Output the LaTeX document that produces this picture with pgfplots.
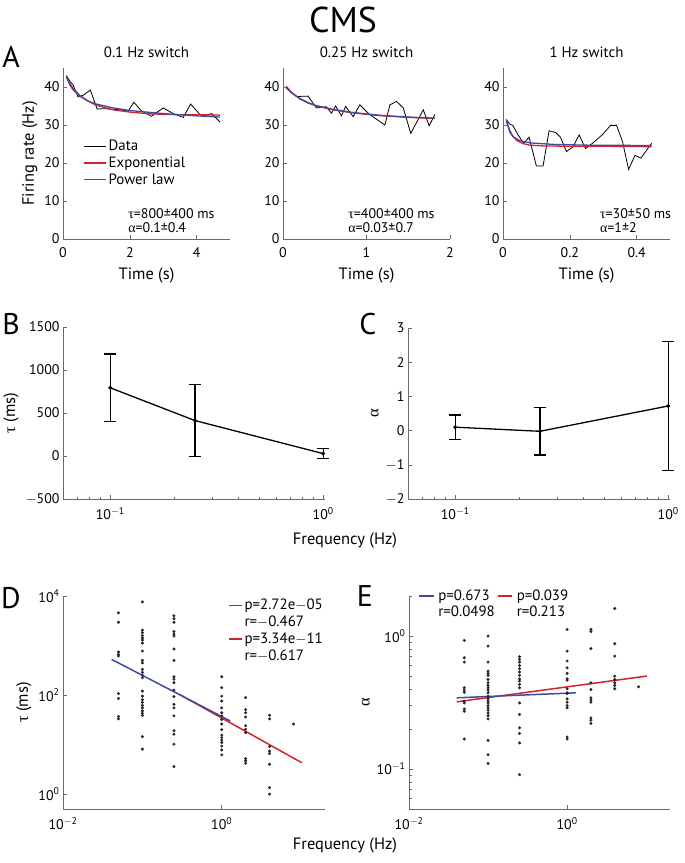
\documentclass[border=0pt]{standalone}
\usepackage{fontspec}
\setmainfont{PT Sans}
\newfontfamily\grk{Liberation Serif}
\newcommand{\tauc}{{\grk τ}}
\newcommand{\alphc}{{\grk α}}
\usepackage{pgfplots}
\pgfplotsset{compat=1.18}

\definecolor{fitred}{RGB}{210,35,45}
\definecolor{fitblue}{RGB}{65,75,160}
\definecolor{axgray}{RGB}{105,105,105}

\tikzset{txt/.style={anchor=west, font=\fontsize{14}{16}\selectfont, inner sep=0pt}}

\pgfplotsset{
  panel/.style={
    scale only axis, anchor=south west,
    axis lines*=left,
    axis line style={axgray, line width=0.8bp},
    tick style={axgray, line width=0.6bp},
    tick align=inside,
    major tick length=4bp, minor tick length=2.5bp,
    tick label style={font=\fontsize{14}{16}\selectfont},
    xticklabel style={yshift=-5bp},
    label style={font=\fontsize{16.5}{19}\selectfont},
    xlabel style={yshift=-3bp},
    /pgf/number format/assume math mode=true,
    clip=false,
  },
  apanel/.style={
    panel, width=167bp, height=171bp,
    ymin=0, ymax=45, ytick={0,10,20,30,40},
    xlabel={Time (s)},
    title style={font=\fontsize{15}{18}\selectfont, yshift=1bp},
  },
  dots/.style={only marks, mark=*, mark size=1.3bp, black!85},
  fitlegend/.style={
    legend style={draw=none, fill=none, inner sep=0pt, font=\fontsize{15}{17.5}\selectfont},
    legend cell align=left,
  },
}

\begin{document}
\begin{tikzpicture}
\useasboundingbox (0,0) rectangle (685bp,-863bp);

\node[font=\fontsize{36}{40}\selectfont] at (343bp,-20bp) {CMS};
\node[font=\fontsize{30}{34}\selectfont] at (11bp,-57bp) {A};
\node[font=\fontsize{30}{34}\selectfont] at (11bp,-324bp) {B};
\node[font=\fontsize{30}{34}\selectfont] at (368bp,-324bp) {C};
\node[font=\fontsize{30}{34}\selectfont] at (11bp,-598bp) {D};
\node[font=\fontsize{30}{34}\selectfont] at (365bp,-596bp) {E};
\node[font=\fontsize{16.5}{19}\selectfont] at (345bp,-540bp) {Frequency (Hz)};
\node[font=\fontsize{16.5}{19}\selectfont] at (345bp,-845bp) {Frequency (Hz)};

% ---- A: 0.1 Hz
\begin{axis}[apanel, at={(63bp,-239bp)},
  xmin=0, xmax=5, xtick={0,2,4},
  ylabel={Firing rate (Hz)}, title={0.1 Hz switch},
  fitlegend,
  legend style={at={(0.12,0.59)}, anchor=north west, row sep=0.5bp},
  legend image post style={xscale=1.3},
]
\addlegendimage{black, line width=0.8bp}
\addlegendentry{Data}
\addlegendimage{fitred, line width=1.3bp}
\addlegendentry{Exponential}
\addlegendimage{fitblue, line width=1.3bp}
\addlegendentry{Power law}
\addplot[black, line width=0.8bp, forget plot] coordinates {
 (0.1,43.0) (0.2,41.6) (0.3,40.6) (0.45,37.4) (0.6,37.8) (0.82,39.2)
 (1.02,34.2) (1.25,34.3) (1.5,34.1) (1.75,34.0) (1.95,33.6) (2.12,36.0)
 (2.35,33.7) (2.65,32.3) (3.0,34.5) (3.3,33.0) (3.6,32.0) (3.82,35.5)
 (4.15,32.3) (4.45,33.0) (4.7,30.8)};
\addplot[fitred, line width=1.3bp, forget plot] coordinates {
 (0.1,42.6) (0.2,41.0) (0.3,39.7) (0.5,37.8) (0.75,36.3) (1.0,35.2)
 (1.5,34.0) (2.0,33.4) (2.5,33.0) (3.0,32.8) (3.5,32.7) (4.0,32.7) (4.7,32.6)};
\addplot[fitblue, line width=1.3bp, forget plot] coordinates {
 (0.1,42.8) (0.2,40.6) (0.3,39.3) (0.5,37.6) (0.75,36.3) (1.0,35.5)
 (1.5,34.5) (2.0,33.8) (2.5,33.4) (3.0,33.0) (3.5,32.7) (4.0,32.4) (4.7,32.1)};
\node[txt] at (rel axis cs:0.39,0.15) {\tauc=800±400 ms};
\node[txt] at (rel axis cs:0.39,0.065) {\alphc=0.1±0.4};
\end{axis}

% ---- A: 0.25 Hz
\begin{axis}[apanel, at={(283bp,-239bp)},
  xmin=0, xmax=2, xtick={0,1,2}, title={0.25 Hz switch}]
\addplot[black, line width=0.8bp] coordinates {
 (0.04,39.8) (0.16,37.5) (0.3,37.6) (0.4,34.5) (0.52,34.8) (0.58,33.1)
 (0.63,35.0) (0.7,32.4) (0.75,34.9) (0.84,32.2) (0.92,35.3) (1.02,33.1)
 (1.12,31.5) (1.22,30.0) (1.28,35.3) (1.36,36.2) (1.44,34.5) (1.53,27.8)
 (1.68,34.0) (1.75,29.8) (1.82,32.8)};
\addplot[fitred, line width=1.3bp] coordinates {
 (0.04,40.2) (0.1,38.6) (0.2,36.9) (0.3,35.8) (0.4,35.0) (0.6,34.0)
 (0.8,33.3) (1.0,32.8) (1.2,32.4) (1.5,32.0) (1.82,31.7)};
\addplot[fitblue, line width=1.3bp] coordinates {
 (0.04,39.8) (0.1,38.5) (0.2,37.0) (0.3,35.9) (0.4,35.1) (0.6,34.1)
 (0.8,33.4) (1.0,32.9) (1.2,32.5) (1.5,32.1) (1.82,31.8)};
\node[txt] at (rel axis cs:0.39,0.15) {\tauc=400±400 ms};
\node[txt] at (rel axis cs:0.39,0.065) {\alphc=0.03±0.7};
\end{axis}

% ---- A: 1 Hz
\begin{axis}[apanel, at={(503bp,-239bp)},
  xmin=0, xmax=0.5, xtick={0,0.2,0.4}, title={1 Hz switch}]
\addplot[black, line width=0.8bp] coordinates {
 (0.01,31.4) (0.02,30.3) (0.03,29.8) (0.045,27.4) (0.062,25.2) (0.078,26.8)
 (0.10,19.2) (0.12,19.2) (0.138,28.5) (0.158,28.0) (0.172,26.8) (0.19,23.0)
 (0.21,24.3) (0.228,27.4) (0.247,23.8) (0.268,25.2) (0.297,27.4) (0.322,29.9)
 (0.34,29.9) (0.358,25.6) (0.376,18.3) (0.395,22.0) (0.413,21.3) (0.445,25.2)};
\addplot[fitred, line width=1.3bp] coordinates {
 (0.01,31.0) (0.02,28.6) (0.03,27.0) (0.04,26.0) (0.06,25.1) (0.08,24.7)
 (0.12,24.5) (0.2,24.4) (0.3,24.4) (0.445,24.3)};
\addplot[fitblue, line width=1.3bp] coordinates {
 (0.01,31.5) (0.02,28.2) (0.03,26.9) (0.05,25.9) (0.08,25.3) (0.15,24.9)
 (0.25,24.7) (0.445,24.6)};
\node[txt] at (rel axis cs:0.58,0.15) {\tauc=30±50 ms};
\node[txt] at (rel axis cs:0.58,0.065) {\alphc=1±2};
\end{axis}

% ---- B
\begin{axis}[panel, at={(63bp,-499bp)}, width=262bp, height=172bp,
  xmode=log, xmin=0.06, xmax=1.02,
  xtick={0.1,1}, xticklabels={10\textsuperscript{$-$1}, 10\textsuperscript{0}},
  minor xtick={0.07,0.08,0.09,0.2,0.3,0.4,0.5,0.6,0.7,0.8,0.9},
  ymin=-500, ymax=1500, ytick={-500,0,500,1000,1500},
  yticklabels={$-$500,0,500,1000,1500},
  ylabel={\tauc\ (ms)}]
\addplot[black, line width=1.3bp, mark=*, mark size=1.2bp,
  error bars/.cd, y dir=both, y explicit,
  error bar style={line width=1.3bp},
  error mark options={rotate=90, mark size=6bp, line width=1.3bp}]
  coordinates {(0.1,793) +- (0,393) (0.25,412) +- (0,420) (1,28) +- (0,58)};
\end{axis}

% ---- C
\begin{axis}[panel, at={(408bp,-499bp)}, width=262bp, height=171bp,
  xmode=log, xmin=0.06, xmax=1.02,
  xtick={0.1,1}, xticklabels={10\textsuperscript{$-$1}, 10\textsuperscript{0}},
  minor xtick={0.07,0.08,0.09,0.2,0.3,0.4,0.5,0.6,0.7,0.8,0.9},
  ymin=-2, ymax=3, ytick={-2,-1,0,1,2,3},
  yticklabels={$-$2,$-$1,0,1,2,3},
  ylabel={\alphc}]
\addplot[black, line width=1.3bp, mark=*, mark size=1.2bp,
  error bars/.cd, y dir=both, y explicit,
  error bar style={line width=1.3bp},
  error mark options={rotate=90, mark size=6bp, line width=1.3bp}]
  coordinates {(0.1,0.10) +- (0,0.36) (0.25,-0.02) +- (0,0.69) (1,0.72) +- (0,1.88)};
\end{axis}

% ---- D
\begin{axis}[panel, fitlegend, at={(63bp,-809bp)}, width=262bp, height=213bp,
  xmode=log, ymode=log, xmin=0.01, xmax=20, ymin=0.5, ymax=10000,
  xtick={0.01,1}, xticklabels={10\textsuperscript{$-$2}, 10\textsuperscript{0}},
  ytick={1,100,10000},
  yticklabels={10\textsuperscript{0}, 10\textsuperscript{2}, 10\textsuperscript{4}},
  ylabel={\tauc\ (ms)},
  legend style={at={(0.63,0.995)}, anchor=north west, row sep=0.8bp},
  legend image post style={xscale=0.75},
]
\addlegendimage{fitblue, line width=1.5bp}
\addlegendentry{p=2.72e$-$05}
\addlegendimage{empty legend}
\addlegendentry{r=$-$0.467}
\addlegendimage{fitred, line width=1.5bp}
\addlegendentry{p=3.34e$-$11}
\addlegendimage{empty legend}
\addlegendentry{r=$-$0.617}
\addplot[dots, forget plot] table {
x y
0.05 4570
0.05 2950
0.05 741
0.05 661
0.05 617
0.05 107
0.05 85
0.05 37
0.05 33
0.1 7590
0.1 2040
0.1 1820
0.1 1580
0.1 1410
0.1 1290
0.1 1120
0.1 776
0.1 501
0.1 447
0.1 331
0.1 288
0.1 251
0.1 224
0.1 120
0.1 95
0.1 81
0.1 71
0.1 62
0.1 55
0.1 48
0.1 43
0.1 39
0.1 14.5
0.1 8.1
0.25 3980
0.25 3470
0.25 2950
0.25 1910
0.25 1700
0.25 1550
0.25 851
0.25 501
0.25 234
0.25 209
0.25 178
0.25 126
0.25 93
0.25 65
0.25 55
0.25 38
0.25 19
0.25 16.2
0.25 10.2
0.25 3.6
1 234
1 141
1 95
1 76
1 55
1 44
1 38
1 32
1 26
1 20
1 15.5
1 13.8
1 12.3
1 11
1 9.3
1 7.8
1 6.2
2 89
2 51
2 44
2 36
2 24
2 20.4
2 17.4
2 5.2
2 4.7
2 4.2
4 39
4 33
4 9.1
4 7.4
4 6.6
4 4.0
4 1.35
4 1.0
8 26
};
\addplot[fitred, line width=1.5bp, forget plot] coordinates {(0.3,101) (10.2,4.3)};
\addplot[fitblue, line width=1.5bp, forget plot] coordinates {(0.041,525) (1.28,30)};
\end{axis}

% ---- E
\begin{axis}[panel, fitlegend, at={(409bp,-809bp)}, width=261bp, height=213bp,
  xmode=log, ymode=log, xmin=0.01, xmax=20, ymin=0.05, ymax=2,
  xtick={0.01,1}, xticklabels={10\textsuperscript{$-$2}, 10\textsuperscript{0}},
  ytick={0.1,1}, yticklabels={10\textsuperscript{$-$1}, 10\textsuperscript{0}},
  minor ytick={0.06,0.07,0.08,0.09,0.2,0.3,0.4,0.5,0.6,0.7,0.8,0.9,2},
  ylabel={\alphc},
  legend columns=2,
  legend style={at={(0.035,1.04)}, anchor=north west,
    /tikz/every odd column/.style={column sep=2bp}},
  legend image post style={xscale=0.85},
]
\addlegendimage{fitblue, line width=1.5bp}
\addlegendentry{p=0.673}
\addlegendimage{fitred, line width=1.5bp}
\addlegendentry{p=0.039}
\addlegendimage{empty legend}
\addlegendentry{r=0.0498}
\addlegendimage{empty legend}
\addlegendentry{r=0.213}
\addplot[dots, forget plot] table {
x y
0.05 0.927
0.05 0.687
0.05 0.637
0.05 0.408
0.05 0.392
0.05 0.378
0.05 0.324
0.05 0.314
0.05 0.283
0.05 0.272
0.05 0.168
0.1 1.0
0.1 0.841
0.1 0.637
0.1 0.545
0.1 0.524
0.1 0.506
0.1 0.471
0.1 0.445
0.1 0.425
0.1 0.408
0.1 0.392
0.1 0.374
0.1 0.353
0.1 0.337
0.1 0.324
0.1 0.314
0.1 0.300
0.1 0.288
0.1 0.277
0.1 0.264
0.1 0.252
0.1 0.238
0.1 0.164
0.1 0.128
0.1 0.110
0.25 0.698
0.25 0.667
0.25 0.637
0.25 0.601
0.25 0.568
0.25 0.536
0.25 0.506
0.25 0.476
0.25 0.458
0.25 0.433
0.25 0.408
0.25 0.314
0.25 0.257
0.25 0.204
0.25 0.185
0.25 0.157
0.25 0.0906
1 1.12
1 0.771
1 0.649
1 0.577
1 0.524
1 0.476
1 0.466
1 0.401
1 0.374
1 0.370
1 0.337
1 0.318
1 0.300
1 0.288
1 0.174
1 0.168
2 1.12
2 1.08
2 0.804
2 0.445
2 0.396
2 0.343
2 0.330
2 0.318
2 0.242
2 0.233
2 0.220
4 1.61
4 0.875
4 0.706
4 0.499
4 0.471
4 0.445
4 0.425
4 0.401
8 0.415
};
\addplot[fitred, line width=1.5bp, forget plot] coordinates {(0.04,0.32) (10.2,0.50)};
\addplot[fitblue, line width=1.5bp, forget plot] coordinates {(0.04,0.343) (1.29,0.374)};
\end{axis}
\end{tikzpicture}
\end{document}
